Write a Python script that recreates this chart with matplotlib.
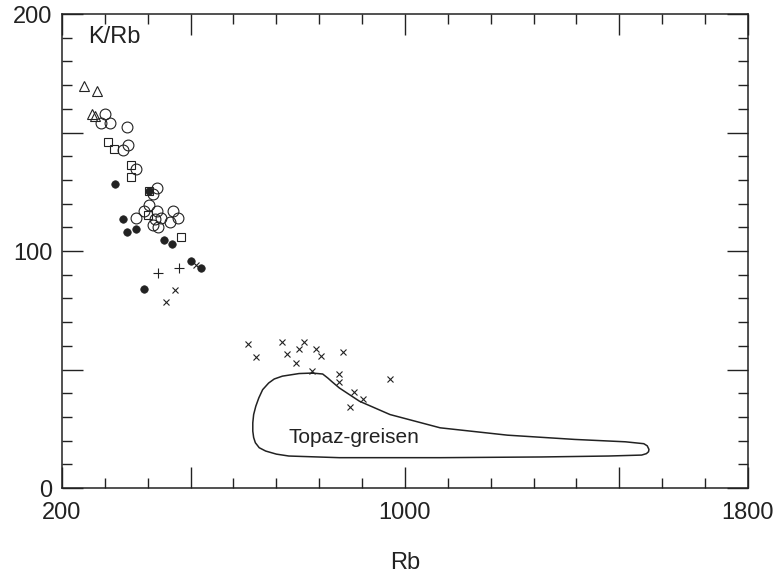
import numpy as np
import matplotlib
matplotlib.use('Agg')
import matplotlib.pyplot as plt
from matplotlib.ticker import MultipleLocator

plt.rcParams['font.family'] = ['Liberation Sans', 'DejaVu Sans']

# data (Rb, K/Rb)
tri_rb = [251, 281, 271, 278]
tri_kr = [169.7, 167.4, 157.6, 157.0]

circ_rb = [300, 290, 311, 351, 353, 343, 372, 422, 412, 404, 391, 422, 430, 416,
           412, 423, 451, 459, 471, 372]
circ_kr = [157.6, 154.2, 154.2, 152.4, 144.7, 142.7, 134.6, 126.4, 124.1, 119.4,
           116.9, 116.9, 114.1, 113.5, 111.0, 110.0, 112.4, 116.9, 113.8, 113.8]

sq_rb = [308, 322, 362, 361, 402, 400, 478]
sq_kr = [145.8, 143.0, 136.3, 131.4, 125.5, 115.2, 106.1]

dot_rb = [324, 402, 343, 351, 372, 439, 456, 502, 525, 392]
dot_kr = [128.3, 125.5, 113.5, 107.9, 109.2, 104.7, 102.9, 95.9, 92.7, 83.9]

plus_rb = [423, 473]
plus_kr = [90.6, 92.7]

x_rb = [463, 443, 513,
        634, 653, 714, 725, 753, 765, 745, 792, 805, 855, 784, 845, 845, 882,
        903, 872, 965]
x_kr = [83.7, 78.4, 94.3,
        60.8, 55.3, 61.6, 56.7, 58.6, 61.6, 52.8, 58.6, 55.6, 57.4, 49.3, 48.1,
        44.6, 40.4, 37.6, 34.1, 46.2]

# Topaz-greisen field outline (traced)
outline_rb = [784, 753, 714, 695, 682, 668, 659, 652, 647, 645, 645, 647, 651, 660,
              675, 700, 729, 847, 1082, 1318, 1475, 1552, 1563, 1568, 1569, 1565,
              1557, 1514, 1396, 1239, 1082, 965, 894, 847, 830, 820, 808, 784]
outline_kr = [48.5, 48.3, 47.2, 46.0, 44.3, 41.5, 38.0, 34.5, 31.0, 27.5, 24.0,
              21.3, 19.1, 17.0, 15.6, 14.3, 13.5, 12.8, 12.8, 13.1, 13.5, 13.9,
              14.5, 15.3, 16.3, 17.8, 18.7, 19.5, 20.5, 22.3, 25.4, 31.0, 36.6,
              42.2, 44.8, 46.4, 48.1, 48.5]

ink = '#222222'

fig = plt.figure(figsize=(7.76, 5.74), dpi=100)
ax = fig.add_axes([0.0799, 0.1498, 0.884, 0.8258])

ax.plot(outline_rb, outline_kr, color=ink, lw=1.1, solid_joinstyle='round')

ax.plot(tri_rb, tri_kr, ls='none', marker='^', ms=7, mfc='none', mec=ink, mew=0.8)
ax.plot(circ_rb, circ_kr, ls='none', marker='o', ms=7.8, mfc='none', mec=ink, mew=0.8)
ax.plot(sq_rb, sq_kr, ls='none', marker='s', ms=6.2, mfc='none', mec=ink, mew=0.8)
ax.plot(dot_rb, dot_kr, ls='none', marker='o', ms=5.4, mfc=ink, mec=ink, mew=0.5)
ax.plot(plus_rb, plus_kr, ls='none', marker='+', ms=6.5, mec=ink, mew=0.8)
ax.plot(x_rb, x_kr, ls='none', marker='x', ms=5, mec=ink, mew=0.8)

ax.text(729, 19.0, 'Topaz-greisen', fontsize=15, color=ink, ha='left', va='baseline')
ax.text(0.038, 0.938, 'K/Rb', transform=ax.transAxes, fontsize=17, color=ink,
        ha='left', va='baseline')

ax.set_xlim(200, 1800)
ax.set_ylim(0, 200)
ax.set_xticks([200, 500, 1000, 1500, 1800])
ax.set_xticklabels(['200', '', '1000', '', '1800'])
ax.set_yticks([0, 50, 100, 150, 200])
ax.set_yticklabels(['0', '', '100', '', '200'])
ax.xaxis.set_minor_locator(MultipleLocator(100))
ax.yaxis.set_minor_locator(MultipleLocator(10))
ax.tick_params(which='both', direction='in', top=True, right=True, color=ink,
               width=1.0, labelsize=17, labelcolor=ink)
ax.tick_params(which='major', length=15)
ax.tick_params(which='minor', length=7)
ax.tick_params(axis='x', which='major', pad=10)
ax.tick_params(axis='y', which='major', pad=7)
for s in ax.spines.values():
    s.set_linewidth(1.1)
    s.set_color(ink)

ax.set_xlabel('Rb', fontsize=17, color=ink, labelpad=20)

fig.savefig('out.png', dpi=100)
